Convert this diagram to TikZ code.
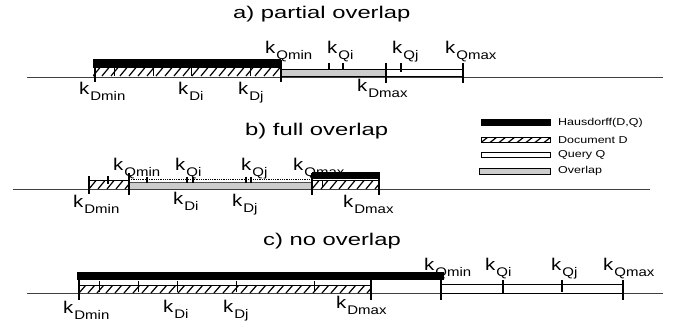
\documentclass[tikz,border=0pt]{standalone}
\usepackage{graphicx}
\usepackage{fontspec}
\setmainfont{Liberation Sans}
% k with a lowered subscript, set slightly wide
\newcommand\kk[1]{\scalebox{1.2}[1]{k\kern0.8pt\raisebox{-6pt}{\fontsize{12.5}{12.5}\selectfont #1}}}
\newcommand\ttl[1]{\scalebox{1.4}[1]{#1}}
% hatched strip between x1 and x2, top y3, bottom y4
\newcommand\hatchstrip[4]{%
  \begin{scope}
    \clip (#1,#3) rectangle (#2,#4);
    \foreach \i in {-1,...,34}{\draw[hatchline] ({#1+9*\i},#4) -- ++(7,{#3-#4});}
  \end{scope}}
\begin{document}
\begin{tikzpicture}[x=1pt,y=-1pt,
  axis/.style={draw=black!75, line width=0.9pt},
  tickmark/.style={draw=black, line width=1.1pt},
  thin tick/.style={draw=black, line width=0.8pt},
  hbar/.style={fill=black, draw=black},
  obar/.style={fill=black!20, draw=black, line width=0.8pt},
  qbar/.style={fill=white, draw=black, line width=0.8pt},
  dbar/.style={draw=black, line width=0.8pt},
  hatchline/.style={draw=black, line width=1.2pt},
  klabel/.style={anchor=base west, inner sep=0pt, font=\fontsize{17}{17}\selectfont},
  titlelabel/.style={anchor=base west, inner sep=0pt, font=\fontsize{17}{17}\selectfont},
  legtext/.style={anchor=west, inner sep=0pt, font=\fontsize{10}{10}\selectfont}
]
\useasboundingbox (0,0) rectangle (680,325);

% ---------------- a) partial overlap ----------------
\node[titlelabel] (ta) at (233,18) {\ttl{a) partial overlap}};
\draw[axis] (27,77) -- (663,77);
\fill[hbar] (93,59) rectangle (280,66);
\hatchstrip{93}{280}{67.5}{76}
\draw[dbar] (93,67.5) -- (280,67.5);
\fill[obar] (281,69.5) rectangle (386,76);
\draw[qbar] (386,69.5) rectangle (463,76);
\foreach \x in {114,153,191,250} \draw[thin tick] (\x,67.5) -- (\x,76);
\draw[tickmark] (95,67) -- (95,82);
\draw[tickmark] (281,60) -- (281,82);
\draw[tickmark] (386,63) -- (386,83);
\draw[tickmark] (463,63) -- (463,83);
\foreach \x in {329,343} \draw[tickmark] (\x,63) -- (\x,70);
\draw[tickmark] (401,63) -- (401,72);
\node[klabel] (aDmin) at (79,94) {\kk{Dmin}};
\node[klabel] (aDi) at (178,94) {\kk{Di}};
\node[klabel] (aDj) at (238,94) {\kk{Dj}};
\node[klabel] (aDmax) at (357,91) {\kk{Dmax}};
\node[klabel] (aQmin) at (265,53) {\kk{Qmin}};
\node[klabel] (aQi) at (327,53) {\kk{Qi}};
\node[klabel] (aQj) at (392,53) {\kk{Qj}};
\node[klabel] (aQmax) at (445,53) {\kk{Qmax}};

% ---------------- b) full overlap ----------------
\node[titlelabel] (tb) at (245,135) {\ttl{b) full overlap}};
\draw[axis] (13,189) -- (650,189);
\hatchstrip{89}{129}{180.5}{189}
\draw[dbar] (89,180.5) -- (129,180.5);
\fill[black!20] (129,182) rectangle (312,189);
\draw[black, line width=0.8pt, densely dotted] (129,179) -- (312,179);
\draw[black!70, line width=0.6pt] (129,182) -- (312,182);
\fill[hbar] (312,172) rectangle (379,178);
\hatchstrip{312}{379}{180.5}{189}
\draw[dbar] (312,180.5) -- (379,180.5);
\draw[tickmark] (89,176) -- (89,194);
\draw[tickmark] (108,176) -- (108,184);
\draw[tickmark] (129,173) -- (129,195);
\foreach \x in {147,187,193,246,251} \draw[tickmark] (\x,176.5) -- (\x,182.5);
\draw[tickmark] (312,173) -- (312,195);
\draw[thin tick] (322,180.5) -- (322,188);
\draw[tickmark] (379,173) -- (379,195);
\node[klabel] (bQmin) at (113,170) {\kk{Qmin}};
\node[klabel] (bQi) at (175,170) {\kk{Qi}};
\node[klabel] (bQj) at (241,170) {\kk{Qj}};
\node[klabel] (bQmax) at (293,170) {\kk{Qmax}};
\node[klabel] (bDmin) at (73,207) {\kk{Dmin}};
\node[klabel] (bDi) at (173,204) {\kk{Di}};
\node[klabel] (bDj) at (232,206) {\kk{Dj}};
\node[klabel] (bDmax) at (343,207) {\kk{Dmax}};

% ---------------- legend ----------------
\fill[hbar] (481,119) rectangle (550,125);
\hatchstrip{481}{550}{137}{142.5}
\draw[dbar] (481,137) rectangle (550,142.5);
\draw[qbar] (481,152) rectangle (550,157);
\draw[obar] (479,168) rectangle (550,174);
\node[legtext] (lh) at (558,122.5) {\scalebox{1.25}[1]{Hausdorff(D,Q)}};
\node[legtext] (ld) at (558,140) {\scalebox{1.25}[1]{Document D}};
\node[legtext] (lq) at (558,155) {\scalebox{1.25}[1]{Query Q}};
\node[legtext] (lo) at (558,171) {\scalebox{1.25}[1]{Overlap}};

% ---------------- c) no overlap ----------------
\node[titlelabel] (tc) at (263,245) {\ttl{c) no overlap}};
\draw[axis] (27,293) -- (663,293);
\fill[hbar] (77,272) rectangle (443,279);
\hatchstrip{79}{371}{285}{293}
\draw[dbar] (79,285) -- (371,285);
\draw[qbar] (441,284.5) rectangle (623,293);
\foreach \x in {99,138,177,236,314} \draw[thin tick] (\x,281) -- (\x,292);
\draw[tickmark] (79,280) -- (79,300);
\draw[tickmark] (371,280) -- (371,300);
\draw[tickmark] (441,280) -- (441,300);
\draw[tickmark] (503,280) -- (503,293);
\draw[tickmark] (562,280) -- (562,292);
\draw[tickmark] (623,280) -- (623,300);
\node[klabel] (cDmin) at (63,313) {\kk{Dmin}};
\node[klabel] (cDi) at (163,312) {\kk{Di}};
\node[klabel] (cDj) at (223,312) {\kk{Dj}};
\node[klabel] (cDmax) at (336,308) {\kk{Dmax}};
\node[klabel] (cQmin) at (424,270) {\kk{Qmin}};
\node[klabel] (cQi) at (485,270) {\kk{Qi}};
\node[klabel] (cQj) at (551,270) {\kk{Qj}};
\node[klabel] (cQmax) at (603,270) {\kk{Qmax}};
\end{tikzpicture}
\end{document}
